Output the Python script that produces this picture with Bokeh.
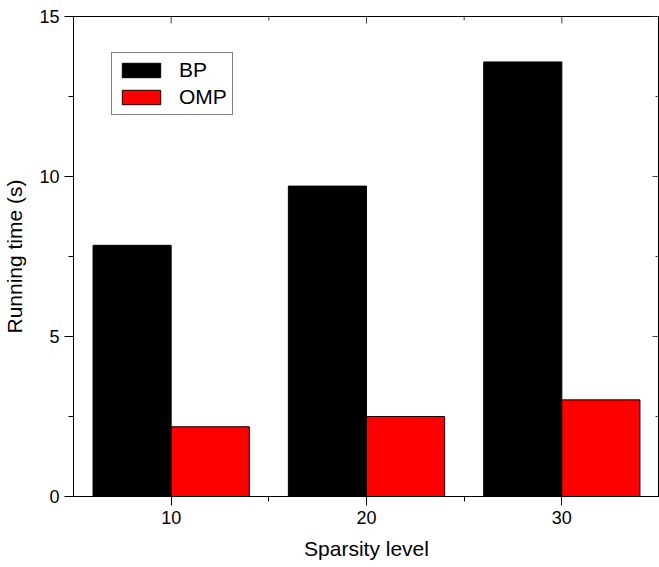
import math
from bokeh.plotting import figure
from bokeh.models import FixedTicker, Range1d, Legend, LegendItem, ColumnDataSource
from bokeh.embed import file_html
from bokeh.resources import INLINE

sparsity = [10, 20, 30]
bp_time = [7.85, 9.7, 13.58]
omp_time = [2.18, 2.5, 3.02]
y_major = [0, 5, 10, 15]
y_minor = [2.5, 7.5, 12.5]
x_major = [10, 20, 30]
x_minor = [15, 25]
x_lo, x_hi = 5, 35
y_lo, y_hi = 0, 15

FONT = "Liberation Sans"

p = figure(width=659, height=567, output_backend="svg", toolbar_location=None,
           x_range=Range1d(x_lo, x_hi), y_range=Range1d(y_lo, y_hi),
           min_border_left=72, min_border_top=16, min_border_bottom=71, min_border_right=0)
p.grid.visible = False
p.background_fill_color = "white"
p.border_fill_color = "white"
p.outline_line_color = "black"

bw = 4.0
src = ColumnDataSource(dict(
    xb=[s - bw / 2 for s in sparsity], xo=[s + bw / 2 for s in sparsity],
    bp=bp_time, omp=omp_time))
rb = p.vbar(x="xb", top="bp", width=bw, bottom=0, source=src,
            fill_color="black", line_color="black", line_width=1)
ro = p.vbar(x="xo", top="omp", width=bw, bottom=0, source=src,
            fill_color="#ff0000", line_color="#1a0000", line_width=1)

for ax in p.xaxis + p.yaxis:
    ax.axis_line_color = "black"
    ax.major_tick_line_color = "black"
    ax.minor_tick_line_color = "black"
    ax.major_tick_out = 9
    ax.major_tick_in = 0
    ax.minor_tick_out = 5
    ax.minor_tick_in = 0
    ax.major_label_text_font = FONT
    ax.major_label_text_font_size = "18px"
    ax.major_label_text_color = "black"
    ax.axis_label_text_font = FONT
    ax.axis_label_text_font_size = "21px"
    ax.axis_label_text_font_style = "normal"
    ax.axis_label_text_color = "black"

p.xaxis.ticker = FixedTicker(ticks=x_major, minor_ticks=x_minor)
p.yaxis.ticker = FixedTicker(ticks=y_major, minor_ticks=y_minor)
p.xaxis.axis_label = "Sparsity level"
p.yaxis.axis_label = "Running time (s)"
p.xaxis.major_label_standoff = 5
p.yaxis.major_label_standoff = 5
p.xaxis.axis_label_standoff = 10
p.yaxis.axis_label_standoff = 10

# inward ticks on the top and right edges of the frame
tick_col = "#444444"
p.ray(x=x_major, y=[y_hi] * len(x_major), length=7, length_units="screen",
      angle=-math.pi / 2, line_color=tick_col, line_width=1)
p.ray(x=x_minor, y=[y_hi] * len(x_minor), length=4, length_units="screen",
      angle=-math.pi / 2, line_color=tick_col, line_width=1)
p.ray(x=[x_hi] * len(y_major), y=y_major, length=7, length_units="screen",
      angle=math.pi, line_color=tick_col, line_width=1)
p.ray(x=[x_hi] * len(y_minor), y=y_minor, length=4, length_units="screen",
      angle=math.pi, line_color=tick_col, line_width=1)

legend = Legend(items=[LegendItem(label="BP", renderers=[rb]),
                       LegendItem(label="OMP", renderers=[ro])],
                location=(38, 381), orientation="vertical",
                label_text_font=FONT, label_text_font_size="21px", label_text_color="black",
                glyph_width=48, glyph_height=18, spacing=3, padding=5, margin=0,
                label_standoff=14, label_height=18,
                border_line_color="black", border_line_width=1,
                background_fill_alpha=1.0)
p.add_layout(legend, "center")

open("out.html", "w").write(file_html(p, INLINE))
